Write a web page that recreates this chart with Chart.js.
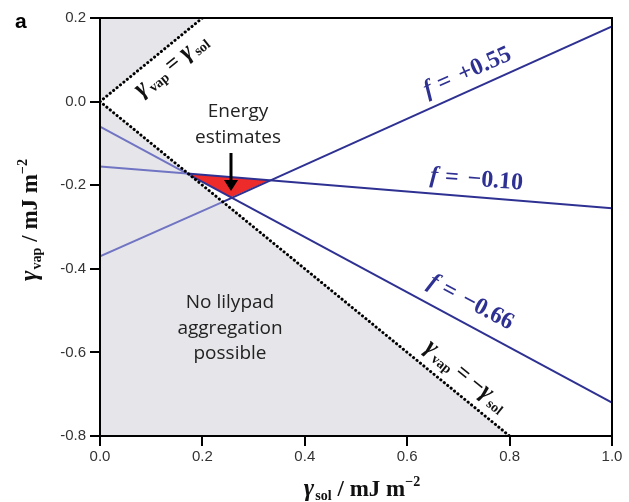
<!DOCTYPE html>
<html>
<head>
<meta charset="utf-8">
<script src="https://cdn.jsdelivr.net/npm/chart.js@4.4.1/dist/chart.umd.min.js"></script>
<style>
  body { margin: 0; background: #fff; }
  #wrap { width: 629px; height: 502px; }
</style>
</head>
<body>
<div id="wrap"><canvas id="chart" width="629" height="502"></canvas></div>
<script>
// axis ticks
const xTicks = [0.0, 0.2, 0.4, 0.6, 0.8, 1.0];
const yTicks = [0.2, 0.0, -0.2, -0.4, -0.6, -0.8];

// f lines: start, crossing of the -gamma line, end
const fLabels = ['+0.55', '\u22120.10', '\u22120.66'];
const lineAx = [0, 0.24, 1.0];
const lineAy = [-0.37, -0.24, 0.18];
const lineBx = [0, 0.17, 1.0];
const lineBy = [-0.155, -0.172, -0.255];
const lineCx = [0, 0.18, 1.0];
const lineCy = [-0.06, -0.179, -0.72];

// dotted boundaries
const posDiagX = [0, 0.2];
const posDiagY = [0, 0.2];
const negDiagX = [0, 0.8];
const negDiagY = [0, -0.8];

// shaded regions
const upperShadeX = [0, 0, 0.2];
const upperShadeY = [0, 0.2, 0.2];
const lowerShadeX = [0, 0, 0.8];
const lowerShadeY = [0, -0.8, -0.8];

// energy estimate triangle
const redX = [0.17, 0.331, 0.256];
const redY = [-0.172, -0.188, -0.229];

const NAVY = '#2e3192';
const LIGHT = '#7074c2';

function pts(xs, ys) {
  return xs.map((x, i) => ({ x: x, y: ys[i] }));
}

function fLine(xs, ys) {
  return {
    data: pts(xs, ys),
    showLine: true,
    pointRadius: 0,
    borderWidth: 2,
    borderColor: NAVY,
    segment: {
      borderColor: ctx => ctx.p0DataIndex === 0 ? LIGHT : NAVY
    }
  };
}

function dotted(xs, ys) {
  return {
    data: pts(xs, ys),
    showLine: true,
    pointRadius: 0,
    borderWidth: 3,
    borderColor: '#000',
    borderDash: [0.1, 4.3],
    borderCapStyle: 'round'
  };
}

// draw a string made of parts with different fonts, centred at x,y and rotated
function drawRich(ctx, x, y, angle, parts, color) {
  ctx.save();
  ctx.translate(x, y);
  ctx.rotate(angle);
  ctx.fillStyle = color;
  ctx.textBaseline = 'alphabetic';
  ctx.textAlign = 'left';
  let total = 0;
  parts.forEach(p => { ctx.font = p.font; total += ctx.measureText(p.t).width + (p.gap || 0); });
  let cx = -total / 2;
  parts.forEach(p => {
    ctx.font = p.font;
    ctx.fillText(p.t, cx, p.dy || 0);
    cx += ctx.measureText(p.t).width + (p.gap || 0);
  });
  ctx.restore();
}

const G = 'bold italic 25px "Liberation Serif"';
const SUB = 'bold 14px "Liberation Serif"';
const EQ = 'bold 23px "Liberation Serif"';

const shadePlugin = {
  id: 'shade',
  beforeDatasetsDraw(chart) {
    const { ctx, scales: { x, y } } = chart;
    function poly(xs, ys, color) {
      ctx.beginPath();
      xs.forEach((v, i) => {
        const px = x.getPixelForValue(v), py = y.getPixelForValue(ys[i]);
        if (i === 0) ctx.moveTo(px, py); else ctx.lineTo(px, py);
      });
      ctx.closePath();
      ctx.fillStyle = color;
      ctx.fill();
    }
    ctx.save();
    poly(upperShadeX, upperShadeY, '#e6e6ea');
    poly(lowerShadeX, lowerShadeY, '#e6e6ea');
    poly(redX, redY, '#ee2b2b');
    ctx.restore();
  },
  afterDraw(chart) {
    const { ctx, chartArea: a } = chart;
    ctx.save();
    // frame
    ctx.strokeStyle = '#000';
    ctx.lineWidth = 2;
    ctx.strokeRect(a.left, a.top, a.right - a.left, a.bottom - a.top);

    // panel letter
    ctx.fillStyle = '#000';
    ctx.font = 'bold 21px "Liberation Sans"';
    ctx.textAlign = 'left';
    ctx.textBaseline = 'alphabetic';
    ctx.fillText('a', 15, 28);

    // f labels
    const fParts = s => [
      { t: 'f', font: 'bold italic 24px "Liberation Serif"', gap: 7 },
      { t: '= ', font: 'bold 24px "Liberation Serif"', gap: 3 },
      { t: s, font: 'bold 24px "Liberation Serif"' }
    ];
    drawRich(ctx, 470, 78, -24 * Math.PI / 180, fParts(fLabels[0]), NAVY);
    drawRich(ctx, 476, 186, 4.5 * Math.PI / 180, fParts(fLabels[1]), NAVY);
    drawRich(ctx, 468, 308, 28 * Math.PI / 180, fParts(fLabels[2]), NAVY);

    // diagonal labels
    drawRich(ctx, 175, 70, -39 * Math.PI / 180, [
      { t: '\u03b3', font: G, gap: 2 },
      { t: 'vap', font: SUB, dy: 4, gap: 5 },
      { t: '= ', font: EQ },
      { t: '\u03b3', font: G, gap: 2 },
      { t: 'sol', font: SUB, dy: 4 }
    ], '#111');
    drawRich(ctx, 462, 381, 39 * Math.PI / 180, [
      { t: '\u03b3', font: G, gap: 2 },
      { t: 'vap', font: SUB, dy: 4, gap: 5 },
      { t: '= \u2212', font: EQ },
      { t: '\u03b3', font: G, gap: 2 },
      { t: 'sol', font: SUB, dy: 4 }
    ], '#111');

    // annotations
    ctx.fillStyle = '#222';
    ctx.font = '19px "Open Sans"';
    ctx.textAlign = 'center';
    ctx.textBaseline = 'middle';
    ctx.fillText('Energy', 238, 112);
    ctx.fillText('estimates', 238, 138);
    ctx.fillText('No lilypad', 230, 303);
    ctx.fillText('aggregation', 230, 329);
    ctx.fillText('possible', 230, 354);

    // arrow
    ctx.strokeStyle = '#000';
    ctx.lineWidth = 3;
    ctx.beginPath();
    ctx.moveTo(231, 153);
    ctx.lineTo(231, 181);
    ctx.stroke();
    ctx.beginPath();
    ctx.moveTo(224, 180);
    ctx.lineTo(238, 180);
    ctx.lineTo(231, 191);
    ctx.closePath();
    ctx.fillStyle = '#000';
    ctx.fill();

    // axis titles
    drawRich(ctx, 362, 496, 0, [
      { t: '\u03b3', font: G, gap: 1 },
      { t: 'sol', font: SUB, dy: 4, gap: 6 },
      { t: '/ mJ m', font: 'bold 23px "Liberation Serif"' },
      { t: '\u22122', font: 'bold 14px "Liberation Serif"', dy: -10 }
    ], '#111');
    drawRich(ctx, 37, 220, -Math.PI / 2, [
      { t: '\u03b3', font: G, gap: 1 },
      { t: 'vap', font: SUB, dy: 4, gap: 6 },
      { t: '/ mJ m', font: 'bold 23px "Liberation Serif"' },
      { t: '\u22122', font: 'bold 14px "Liberation Serif"', dy: -10 }
    ], '#111');
    ctx.restore();
  }
};

new Chart(document.getElementById('chart'), {
  type: 'scatter',
  data: {
    datasets: [
      dotted(posDiagX, posDiagY),
      dotted(negDiagX, negDiagY),
      fLine(lineAx, lineAy),
      fLine(lineBx, lineBy),
      fLine(lineCx, lineCy)
    ]
  },
  options: {
    responsive: false,
    animation: false,
    devicePixelRatio: 1,
    layout: { padding: { top: 18, right: 17, left: 0, bottom: 0 } },
    plugins: { legend: { display: false }, tooltip: { enabled: false } },
    scales: {
      x: {
        type: 'linear',
        min: 0, max: 1,
        afterFit: s => { s.height = 66; },
        afterBuildTicks: s => { s.ticks = xTicks.map(v => ({ value: v })); },
        border: { display: false },
        grid: { drawOnChartArea: false, drawTicks: true, tickLength: 10, tickColor: '#000', lineWidth: 2 },
        ticks: {
          padding: 2,
          color: '#333',
          font: { family: '"Liberation Sans"', size: 15 },
          callback: v => v.toFixed(1)
        }
      },
      y: {
        type: 'linear',
        min: -0.8, max: 0.2,
        afterFit: s => { s.width = 100; },
        afterBuildTicks: s => { s.ticks = yTicks.map(v => ({ value: v })); },
        border: { display: false },
        grid: { drawOnChartArea: false, drawTicks: true, tickLength: 10, tickColor: '#000', lineWidth: 2 },
        ticks: {
          padding: 4,
          color: '#333',
          font: { family: '"Liberation Sans"', size: 15 },
          callback: v => v.toFixed(1)
        }
      }
    }
  },
  plugins: [shadePlugin]
});
</script>
</body>
</html>
